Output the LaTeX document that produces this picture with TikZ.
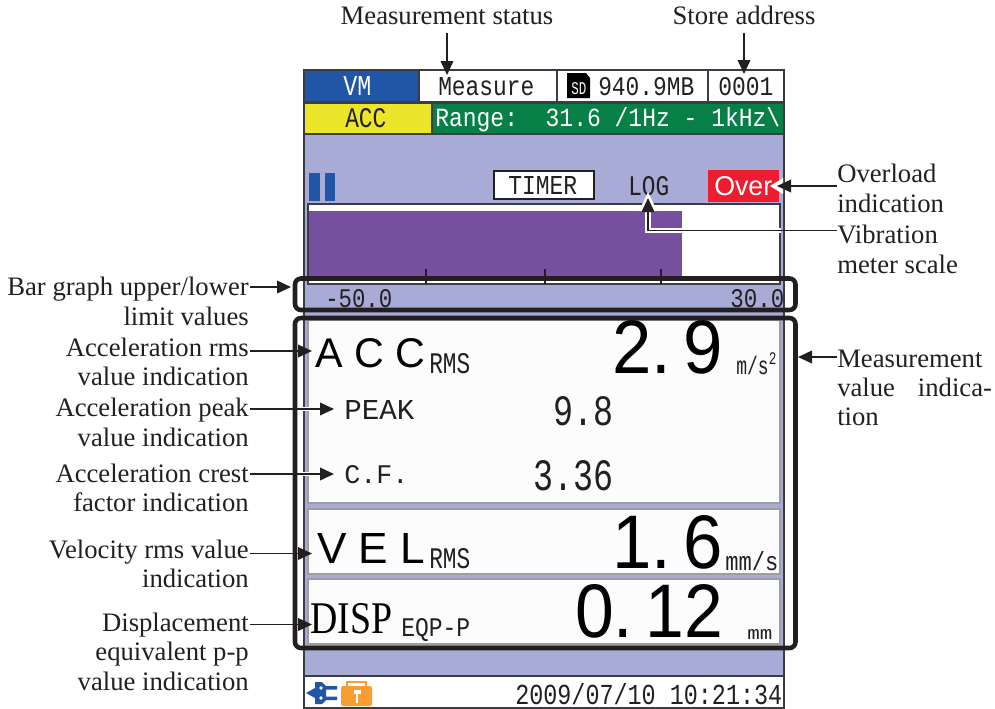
\documentclass[tikz,border=0pt]{standalone}
\usepackage{graphicx}
\usepackage{fontspec}
\setmainfont{Liberation Serif}
\setsansfont{Liberation Sans}
\setmonofont{Liberation Mono}
\usetikzlibrary{arrows.meta}
\definecolor{lav}{HTML}{A7ABD6}
\definecolor{scrblue}{HTML}{2156A6}
\definecolor{scryellow}{HTML}{EBE62A}
\definecolor{scrgreen}{HTML}{068047}
\definecolor{scrred}{HTML}{ED1C2E}
\definecolor{scrpurple}{HTML}{76509F}
\definecolor{scrorange}{HTML}{F99D31}
\definecolor{ink}{HTML}{231F20}
\definecolor{edge}{HTML}{3C3C46}
\newdimen\pxu \pxu=0.75pt
\newcommand{\fit}[3]{\resizebox{#1\pxu}{#2\pxu}{#3}}
\tikzset{
  x=0.75pt,y=-0.75pt,
  lbl/.style={inner sep=0pt,text=ink,font=\fontsize{20}{21.9}\selectfont},
  lblr/.style={lbl,align=right,anchor=base east},
  lbll/.style={lbl,align=left,anchor=base west},
  lcd/.style={inner sep=0pt,anchor=base west,text=ink},
  cell/.style={draw=edge,line width=0.8pt},
  panel/.style={fill=white!99!black,draw=black!38,line width=1.1pt},
  callout/.style={draw=ink,line width=1.15pt,-{Triangle[length=10.5pt,width=9.5pt,fill=ink]}},
  halo/.style={draw=white,line width=3.6pt},
  framebox/.style={draw=ink,line width=3.4pt,rounded corners=4.5pt},
}
\begin{document}
\begin{tikzpicture}
\useasboundingbox (0,0) rectangle (995,708);
% screen
\fill[lav] (304,70) rectangle (784,708);
\filldraw[cell,fill=scrblue] (304,70) rectangle (419,102);
\filldraw[cell,fill=white] (419,70) rectangle (557,102);
\filldraw[cell,fill=white] (557,70) rectangle (708,102);
\filldraw[cell,fill=white] (708,70) rectangle (784,102);
\filldraw[cell,fill=scryellow] (304,103) rectangle (432,134);
\filldraw[cell,fill=scrgreen] (432,103) rectangle (784,134);
\draw[cell] (304,70) rectangle (784,708);
\node[lcd,text=white] (vm) at (343,95) {\fit{28}{19}{\ttfamily VM}};
\node[lcd] (measure) at (438,95) {\fit{96}{18}{\ttfamily Measure}};
\fill[black] (567,73) -- (586,73) -- (590,78) -- (590,98) -- (567,98) -- cycle;
\node[lcd,text=white] (sd) at (571,94) {\fit{15}{12}{\ttfamily SD}};
\node[lcd] (mem) at (598,95) {\fit{96}{18}{\ttfamily 940.9MB}};
\node[lcd] (addr) at (718,95) {\fit{55}{18}{\ttfamily 0001}};
\node[lcd] (acc) at (345,127) {\fit{41}{19}{\ttfamily ACC}};
\node[lcd,text=white] (range) at (435,126) {\fit{345}{19}{\ttfamily Range:\ \ 31.6 /1Hz - 1kHz\textbackslash}};
% status row
\fill[scrblue] (309,173) rectangle (320,201);
\fill[scrblue] (325,173) rectangle (335,201);
\filldraw[fill=white,draw=ink,line width=1pt] (494,171) rectangle (594,199);
\node[lcd] (timer) at (508,194) {\fit{69}{18}{\ttfamily TIMER}};
\node[lcd] (log) at (628,195) {\fit{41}{19}{\ttfamily LOG}};
\fill[scrred] (708,170) rectangle (779,202);
\node[lcd,text=white] (over) at (714,195) {\fit{58}{19}{\sffamily Over}};
% bar graph
\filldraw[fill=white,draw=edge,line width=0.9pt] (308,204) rectangle (780,284);
\fill[scrpurple] (309,211) rectangle (682,283);
\fill[white] (309,280) rectangle (779,283.4);
\draw[ink,line width=0.8pt] (426,269) -- (426,284) (545,269) -- (545,284) (661,269) -- (661,284);
\node[lcd] (lo) at (325,307) {\fit{67}{18}{\ttfamily -50.0}};
\node[lcd] (hi) at (730,307) {\fit{54}{18}{\ttfamily 30.0}};
% value panels
\filldraw[panel] (308,320) rectangle (780,503);
\filldraw[panel] (308,509) rectangle (780,574);
\filldraw[panel] (308,579) rectangle (780,644);
\node[lcd,text=black] (accn) at (315,367) {\fit{110}{29}{\sffamily A C C}};
\node[lcd] (accr) at (429,373) {\fit{41}{20}{\ttfamily RMS}};
\node[lcd,text=black] (accv) at (612,373) {\fit{111}{53}{\sffamily 2.\hspace{.18em}9}};
\node[lcd] (accu) at (736,374) {\fit{41}{21}{\ttfamily m/s\textsuperscript{2}}};
\node[lcd] (peak) at (344,419) {\fit{70}{19}{\ttfamily PEAK}};
\node[lcd] (peakv) at (553,425) {\fit{60}{29}{\ttfamily 9.8}};
\node[lcd] (cf) at (344,483) {\fit{64}{18}{\ttfamily C.F.}};
\node[lcd] (cfv) at (533,490) {\fit{80}{30}{\ttfamily 3.36}};
\node[lcd,text=black] (vel) at (317,563) {\fit{108}{30}{\sffamily V E L}};
\node[lcd] (velr) at (429,568) {\fit{41}{20}{\ttfamily RMS}};
\node[lcd,text=black] (velv) at (612,568) {\fit{111}{53}{\sffamily 1.\hspace{.18em}6}};
\node[lcd] (velu) at (725,570) {\fit{53}{19}{\ttfamily mm/s}};
\node[lcd,text=black] (disp) at (310,633) {\fit{82}{30}{\rmfamily DISP}};
\node[lcd] (dispr) at (401,636) {\fit{69}{18}{\ttfamily EQP-P}};
\node[lcd,text=black] (dispv) at (575,637) {\fit{148}{53}{\sffamily 0.\hspace{.18em}12}};
\node[lcd] (dispu) at (747,639) {\fit{25}{10}{\ttfamily mm}};
% footer
\filldraw[cell,fill=white] (304,676) rectangle (784,708);
\fill[scrblue] (306,693) -- (315,688) -- (315,682) -- (322,682) -- (326,686) -- (337,686) -- (337,689.5) -- (326,689.5) -- (326,696.5) -- (337,696.5) -- (337,700) -- (326,700) -- (322,704) -- (315,704) -- (315,698) -- cycle;
\fill[white] (321,688) circle (1.8);
\fill[white] (321,698) circle (1.8);
\draw[scrorange,line width=1.6pt] (347,687) -- (347,682) -- (366,682) -- (366,687);
\fill[scrorange,rounded corners=1.5pt] (341,686) rectangle (372,706);
\fill[white] (353.5,690) rectangle (360.5,694);
\fill[white] (356,693) rectangle (358,703);
\node[lcd] (clock) at (515,704) {\fit{267}{21}{\ttfamily 2009/07/10 10:21:34}};
% highlight frames
\draw[framebox] (295,278.5) rectangle (795.5,310);
\draw[framebox] (295,318) rectangle (795.5,648);
% labels
\node[lbl,anchor=base] (tStatus) at (447,24) {Measurement status};
\node[lbl,anchor=base] (tStore) at (744,24) {Store address};
\node[lbll] (tOver) at (837,212) {Overload\\indication};
\node[lbll] (tScale) at (837,273) {Vibration\\meter scale};
\node[lbll,text width=116pt] (tMeas) at (837,367) {Measurement\\value\hfill indica-\\tion};
\node[lblr] (tLimit) at (249,325) {Bar graph upper/lower\\limit values};
\node[lblr] (tRms) at (249,385.5) {Acceleration rms\\value indication};
\node[lblr] (tPeak) at (249,446) {Acceleration peak\\value indication};
\node[lblr] (tCrest) at (249,511.5) {Acceleration crest\\factor indication};
\node[lblr] (tVel) at (249,587.5) {Velocity rms value\\indication};
\node[lblr] (tDisp) at (249,690) {Displacement\\equivalent p-p\\value indication};
% connector ends
\coordinate (sStatus) at (447,33); \coordinate (eStatus) at (447,75);
\coordinate (sStore) at (744,33); \coordinate (eStore) at (744,74);
\coordinate (sOver) at (837,186); \coordinate (eOver) at (777,186);
\coordinate (sScale) at (837,230.5); \coordinate (bScale) at (648,230.5); \coordinate (eScale) at (648,198);
\coordinate (sMeas) at (837,357); \coordinate (eMeas) at (798,357);
\coordinate (sLimit) at (250,287); \coordinate (eLimit) at (291,287);
\coordinate (sRms) at (250,351); \coordinate (eRms) at (312,351);
\coordinate (sPeak) at (250,409); \coordinate (ePeak) at (334,409);
\coordinate (sCrest) at (250,474); \coordinate (eCrest) at (334,474);
\coordinate (sVel) at (250,553.5); \coordinate (eVel) at (312,553.5);
\coordinate (sDisp) at (250,624.5); \coordinate (eDisp) at (312,624.5);
% white halos
\draw[halo] (298,409) -- (ePeak);
\draw[halo] (298,474) -- (eCrest);
\draw[halo,line width=4.4pt] (781,230.5) -- (bScale) -- (648,208);
\fill[white] (648,192) -- (639,211) -- (657,211) -- cycle;
\fill[white] (770,186) -- (783,178) -- (783,194) -- cycle;
% connectors
\draw[callout] (sStatus) -- (eStatus);
\draw[callout] (sStore) -- (eStore);
\draw[callout] (sOver) -- (eOver);
\draw[callout] (sScale) -- (bScale) -- (eScale);
\draw[callout] (sMeas) -- (eMeas);
\draw[callout] (sLimit) -- (eLimit);
\draw[callout] (sRms) -- (eRms);
\draw[callout] (sPeak) -- (ePeak);
\draw[callout] (sCrest) -- (eCrest);
\draw[callout] (sVel) -- (eVel);
\draw[callout] (sDisp) -- (eDisp);
\end{tikzpicture}
\end{document}
